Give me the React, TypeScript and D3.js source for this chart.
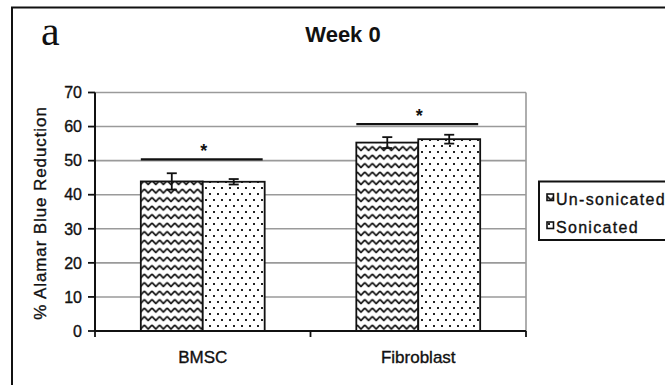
import React, { useEffect } from 'react';
import * as d3 from 'd3';

// values
const categories = ['BMSC', 'Fibroblast'];
const series = ['Un-sonicated', 'Sonicated'];
const unsonicated = [43.9, 55.3];
const sonicated = [43.8, 56.3];
const unsonicatedErr = [2.4, 1.6];
const sonicatedErr = [0.8, 1.3];
const significance = [50.4, 60.7];
const yTicks = [0, 10, 20, 30, 40, 50, 60, 70];

const W = 665;
const H = 385;
const PLOT = { left: 95, right: 526, top: 92.5, bottom: 331 };
const FONT = '"Liberation Sans", Arial, sans-serif';
// scanned figure: text reads a little heavier than regular weight
const INK = { fill: '#111', stroke: '#111', strokeWidth: 0.35 };

const App: React.FC = () => {
  useEffect(() => {
    document.body.style.margin = '0';
  }, []);

  const x0 = d3.scaleBand<string>().domain(categories).range([PLOT.left, PLOT.right]).padding(0);
  const x1 = d3.scaleBand<string>().domain(series).range([0, x0.bandwidth()]).paddingInner(0).paddingOuter(0.74);
  const y = d3.scaleLinear().domain([0, 70]).range([PLOT.bottom, PLOT.top]);

  const values = [unsonicated, sonicated];
  const errors = [unsonicatedErr, sonicatedErr];
  const fills = ['url(#zigzag)', 'url(#dots)'];

  return (
    <svg width={W} height={H} style={{ display: 'block', background: '#fff' }} fontFamily={FONT}>
      <defs>
        <pattern id="zigzag" patternUnits="userSpaceOnUse" width={7.6} height={8.5}>
          <rect width={7.6} height={8.5} fill="#fff" />
          <path d="M0,2 L3.8,6 L7.6,2" fill="none" stroke="#111" strokeWidth={1.7} strokeLinejoin="round" />
        </pattern>
        <pattern id="dots" patternUnits="userSpaceOnUse" width={8} height={12}>
          <rect width={8} height={12} fill="#fff" />
          <rect x={1} y={1} width={2} height={2} fill="#222" />
          <rect x={5} y={7} width={2} height={2} fill="#222" />
        </pattern>
      </defs>

      {/* outer frame */}
      <rect x={12} y={7.5} width={700} height={420} fill="none" stroke="#111" strokeWidth={2} />

      <text x={41} y={45} fontFamily='"Liberation Serif", "Times New Roman", serif' fontSize={42} fill="#111">a</text>
      <text x={343} y={42} textAnchor="middle" fontSize={22} fontWeight="bold" fill="#111">Week 0</text>

      {/* gridlines and plot border */}
      {yTicks.filter(t => t > 0).map(t => (
        <line key={t} x1={PLOT.left} x2={PLOT.right} y1={y(t)} y2={y(t)} stroke="#9a9a9a" strokeWidth={1.6} />
      ))}
      <line x1={PLOT.right} x2={PLOT.right} y1={y(70)} y2={y(0)} stroke="#9a9a9a" strokeWidth={1.6} />

      {/* bars */}
      {categories.map((c, i) => (
        <g key={c}>
          {series.map((s, j) => {
            const bx = x0(c)! + x1(s)!;
            const bw = x1.bandwidth();
            const v = values[j][i];
            const e = errors[j][i];
            const cx = bx + bw / 2;
            return (
              <g key={s}>
                <rect x={bx} y={y(v)} width={bw} height={y(0) - y(v)} fill={fills[j]} stroke="#111" strokeWidth={1.8} />
                <line x1={cx} x2={cx} y1={y(v + e)} y2={y(v - e)} stroke="#111" strokeWidth={1.8} />
                <line x1={cx - 5} x2={cx + 5} y1={y(v + e)} y2={y(v + e)} stroke="#111" strokeWidth={1.8} />
                <line x1={cx - 5} x2={cx + 5} y1={y(v - e)} y2={y(v - e)} stroke="#111" strokeWidth={1.8} />
              </g>
            );
          })}
          <line
            x1={x0(c)! + x1(series[0])!}
            x2={x0(c)! + x1(series[1])! + x1.bandwidth() - 2}
            y1={y(significance[i])}
            y2={y(significance[i])}
            stroke="#111"
            strokeWidth={2.2}
          />
          <text x={x0(c)! + x0.bandwidth() / 2 + 1} y={y(significance[i]) - 2} textAnchor="middle" fontSize={18} fontWeight="bold" fill="#111">*</text>
        </g>
      ))}

      {/* y axis */}
      <line x1={PLOT.left} x2={PLOT.left} y1={y(70)} y2={y(0)} stroke="#111" strokeWidth={2} />
      {yTicks.map(t => (
        <g key={t}>
          <line x1={PLOT.left - 7} x2={PLOT.left} y1={y(t)} y2={y(t)} stroke="#111" strokeWidth={1.8} />
          <text x={82} y={y(t)} dy="0.36em" textAnchor="end" fontSize={16} {...INK}>{t}</text>
        </g>
      ))}
      <text
        transform={`translate(46,213) rotate(-90)`}
        textAnchor="middle"
        fontSize={17}
        letterSpacing={0.9}
        {...INK}
      >% Alamar Blue Reduction</text>

      {/* x axis */}
      <line x1={PLOT.left} x2={PLOT.right} y1={y(0)} y2={y(0)} stroke="#111" strokeWidth={2} />
      {[PLOT.left, ...categories.map(c => x0(c)! + x0.bandwidth())].map((tx, i) => (
        <line key={i} x1={tx} x2={tx} y1={y(0)} y2={y(0) + 6} stroke="#111" strokeWidth={1.8} />
      ))}
      {categories.map(c => (
        <text key={c} x={x0(c)! + x0.bandwidth() / 2} y={363} textAnchor="middle" fontSize={17} {...INK}>{c}</text>
      ))}

      {/* legend */}
      <rect x={539} y={181.5} width={200} height={58.5} fill="#fff" stroke="#111" strokeWidth={2} />
      {series.map((s, j) => (
        <g key={s} transform={`translate(547, ${194 + j * 28})`}>
          <rect width={6.5} height={6.5} fill={fills[j]} stroke="#111" strokeWidth={1.6} />
          <text x={9} y={11} fontSize={16} letterSpacing={1.3} {...INK}>{s}</text>
        </g>
      ))}
    </svg>
  );
};

export default App;
